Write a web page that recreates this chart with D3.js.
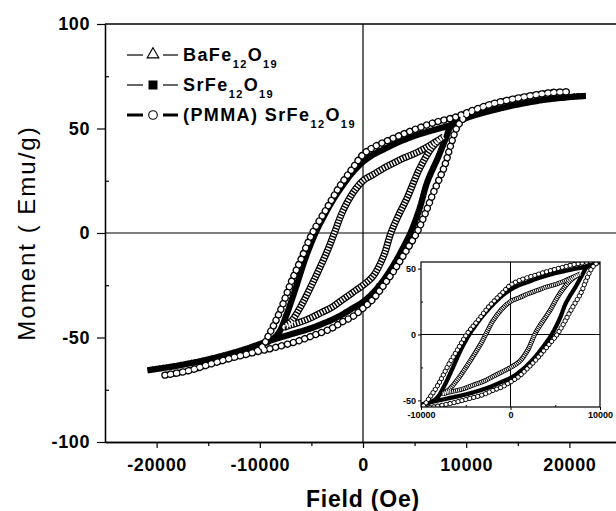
<!DOCTYPE html>
<html>
<head>
<meta charset="utf-8">
<script src="https://cdn.jsdelivr.net/npm/d3@7"></script>
<style>
body { margin: 0; background: #fff; }
svg { display: block; font-family: "Liberation Sans", Arial, sans-serif; }
</style>
</head>
<body>
<div id="chart"></div>
<script>
// axis ticks
var xTicks = [-20000, -10000, 0, 10000, 20000];
var xMinor = [-15000, -5000, 5000, 15000];
var yTicks = [-100, -50, 0, 50, 100];
var yMinor = [-75, -25, 25, 75];
var insetXTicks = [-10000, 0, 10000];
var insetXMinor = [-5000, 5000];
var insetYTicks = [-50, 0, 50];
var insetYMinor = [-25, 25];

// hysteresis loops, [field (Oe), moment (emu/g)]
// "down" = descending branch from +H, "up" = ascending branch from -H
var baFeDown = [[7800,46],[7000,43.5],[6000,40.5],[5000,38],[4000,36],[3000,33.5],[2000,31],[1000,28],[0,25],
  [-1000,19],[-2000,10],[-2700,1],[-3400,-8],[-4600,-21],[-5900,-34],[-6900,-42],[-7600,-45]];
var baFeUp = [[-7000,-44],[-6000,-42.5],[-5000,-40.5],[-4000,-38],[-3000,-35.5],[-2000,-32],[-1000,-28.5],[0,-25],
  [1000,-20.5],[2000,-11],[2700,0],[3400,8],[4300,17],[5500,31],[6700,41],[7500,45],[7800,46]];

var srFeDown = [[21300,65.5],[18000,64],[15000,61.5],[12000,58],[10000,55],[8400,51.5],[7000,49.5],[5000,46.5],
  [3000,42.5],[2000,40],[1000,37.5],[0,34],[-1000,29],[-2000,22.5],[-3000,15],[-4000,6],[-4600,0],[-5500,-11],
  [-6500,-26],[-7400,-39],[-8200,-48],[-9000,-51.5],[-10000,-53.5],[-12000,-56.5],[-15000,-60.5],[-18000,-63.5],[-20600,-65.5]];
var srFeUp = [[-18000,-63.5],[-15000,-60.5],[-12000,-56.5],[-9000,-51.5],[-7000,-48.5],[-5000,-45.5],[-3000,-41.5],
  [-2000,-39],[-1000,-36],[0,-33],[1000,-28.5],[2000,-22.5],[3000,-15],[4000,-6],[4600,0],[5500,12],[6200,24],
  [7300,36.5],[8000,45],[8600,51.5],[10000,55],[12000,58],[15000,61.5],[18000,64],[21300,65.5]];

var pmmaDown = [[19700,67.5],[18000,67],[15000,64.5],[12000,61],[10000,57.5],[9000,55.5],[7000,53],[5000,49.5],
  [3000,45.5],[1000,41],[0,37.5],[-1000,31],[-2300,22],[-3600,11],[-4900,0],[-6000,-12.5],[-7000,-24],[-8000,-37],
  [-9000,-47.5],[-10000,-55.5],[-12600,-59.6],[-15000,-63],[-17000,-66],[-19200,-68]];
var pmmaUp = [[-17000,-66],[-15000,-63],[-12600,-59.6],[-10000,-56.5],[-8700,-55],[-6500,-52],[-4800,-49],[-3000,-45.5],
  [-2000,-42.5],[-1000,-40],[0,-36],[1000,-31.5],[2000,-25],[3000,-18],[4000,-10],[5200,0],[6000,9],[6800,19],
  [7900,32],[8500,42],[9100,50.5],[9600,54],[10000,56.5],[12000,61],[15000,64.5],[18000,67],[19700,67.5]];

var series = [
  { name: "SrFe", sub: ["12", "19"], type: "square", data: srFeDown.concat(srFeUp) },
  { name: "BaFe", sub: ["12", "19"], type: "triangle", data: baFeDown.concat(baFeUp) },
  { name: "(PMMA) SrFe", sub: ["12", "19"], type: "circle", data: pmmaDown.concat(pmmaUp) }
];

var width = 616, height = 511;

var svg = d3.select("#chart").append("svg")
  .attr("width", width)
  .attr("height", height);

var x = d3.scaleLinear().domain([-25000, 25000]).range([105, 621]);
var y = d3.scaleLinear().domain([-100, 100]).range([442, 24]);

// frame and zero lines
svg.append("line").attr("x1", x(-25000)).attr("x2", x(25000)).attr("y1", y(100)).attr("y2", y(100))
  .attr("stroke", "#000").attr("stroke-width", 1.3);
svg.append("line").attr("x1", x(25000)).attr("x2", x(25000)).attr("y1", y(100)).attr("y2", y(-100))
  .attr("stroke", "#000").attr("stroke-width", 1.3);
svg.append("line").attr("x1", x(0)).attr("x2", x(0)).attr("y1", y(100)).attr("y2", y(-100))
  .attr("stroke", "#000").attr("stroke-width", 1.2);
svg.append("line").attr("x1", x(-25000)).attr("x2", x(25000)).attr("y1", y(0)).attr("y2", y(0))
  .attr("stroke", "#000").attr("stroke-width", 1.2);

var fmt = function (d) { return String(d); };

// x axis
var gx = svg.append("g").attr("transform", "translate(0," + y(-100) + ")")
  .call(d3.axisBottom(x).tickValues(xTicks).tickFormat(fmt).tickSize(6).tickSizeOuter(0).tickPadding(10));
svg.append("g").attr("transform", "translate(0," + y(-100) + ")")
  .call(d3.axisBottom(x).tickValues(xMinor).tickFormat("").tickSize(4).tickSizeOuter(0));

// y axis
var gy = svg.append("g").attr("transform", "translate(" + x(-25000) + ",0)")
  .call(d3.axisLeft(y).tickValues(yTicks).tickFormat(fmt).tickSize(8).tickSizeOuter(0).tickPadding(7));
svg.append("g").attr("transform", "translate(" + x(-25000) + ",0)")
  .call(d3.axisRight(y).tickValues(yMinor).tickFormat("").tickSize(4).tickSizeOuter(0));

svg.selectAll(".domain").attr("stroke-width", 1.3);
svg.selectAll(".tick line").attr("stroke-width", 1.2);
[gx, gy].forEach(function (g) {
  g.selectAll("text")
    .attr("font-family", "'Liberation Sans', Arial, sans-serif")
    .attr("font-size", 18)
    .attr("font-weight", "bold")
    .attr("letter-spacing", 0.6)
    .attr("fill", "#000");
});

// axis titles
svg.append("text")
  .attr("x", x(0)).attr("y", 507)
  .attr("text-anchor", "middle")
  .attr("font-size", 23).attr("font-weight", "bold").attr("letter-spacing", 0.8)
  .text("Field (Oe)");

svg.append("text")
  .attr("transform", "translate(35," + y(0) + ") rotate(-90)")
  .attr("text-anchor", "middle")
  .attr("font-size", 24)
  .attr("letter-spacing", 2)
  .text("Moment ( Emu/g)");

// draw a loop with dense markers made from a dashed stroke
function drawLoop(g, d, line, small) {
  var k = small ? 0.68 : 1;
  if (d.type === "square") {
    g.append("path").attr("d", line(d.data))
      .attr("fill", "none").attr("stroke", "#000")
      .attr("stroke-width", 6.2 * k)
      .attr("stroke-linecap", "square")
      .attr("stroke-linejoin", "round")
      .attr("stroke-dasharray", "0.01 " + (3.6 * k));
  } else if (d.type === "triangle") {
    g.append("path").attr("d", line(d.data))
      .attr("fill", "none").attr("stroke", "#000")
      .attr("stroke-width", 7 * k);
    g.append("path").attr("d", line(d.data))
      .attr("fill", "none").attr("stroke", "#fff")
      .attr("stroke-width", 4.6 * k)
      .attr("stroke-dasharray", (1.5 * k) + " " + (1.4 * k));
  } else {
    g.append("path").attr("d", line(d.data))
      .attr("fill", "none").attr("stroke", "#000")
      .attr("stroke-width", 7.4 * k)
      .attr("stroke-linecap", "round")
      .attr("stroke-dasharray", "0.01 " + (6 * k));
    g.append("path").attr("d", line(d.data))
      .attr("fill", "none").attr("stroke", "#fff")
      .attr("stroke-width", 4.8 * k)
      .attr("stroke-linecap", "round")
      .attr("stroke-dasharray", "0.01 " + (6 * k));
  }
}

var line = d3.line()
  .x(function (d) { return x(d[0]); })
  .y(function (d) { return y(d[1]); })
  .curve(d3.curveCatmullRom.alpha(0.5));

var curves = svg.append("g").attr("class", "curves");
series.forEach(function (s) { drawLoop(curves, s, line, false); });

// legend
var legendRows = [
  { s: series[1], y: 55 },
  { s: series[0], y: 85 },
  { s: series[2], y: 115 }
];
var legend = svg.append("g").attr("class", "legend");
legendRows.forEach(function (r) {
  var lw = r.s.type === "circle" ? 3 : 1.2;
  legend.append("line").attr("x1", 127).attr("x2", 143).attr("y1", r.y).attr("y2", r.y)
    .attr("stroke", "#000").attr("stroke-width", lw);
  legend.append("line").attr("x1", 163).attr("x2", 178).attr("y1", r.y).attr("y2", r.y)
    .attr("stroke", "#000").attr("stroke-width", lw);
  if (r.s.type === "triangle") {
    legend.append("path").attr("d", d3.symbol().type(d3.symbolTriangle).size(60)())
      .attr("transform", "translate(153," + (r.y - 0.5) + ")")
      .attr("fill", "#fff").attr("stroke", "#000").attr("stroke-width", 1.1);
  } else if (r.s.type === "square") {
    legend.append("rect").attr("x", 148.5).attr("y", r.y - 4.5).attr("width", 9).attr("height", 9)
      .attr("fill", "#000");
  } else {
    legend.append("circle").attr("cx", 153).attr("cy", r.y).attr("r", 4.3)
      .attr("fill", "#fff").attr("stroke", "#000").attr("stroke-width", 1.1);
  }
  var t = legend.append("text").attr("x", 183).attr("y", r.y + 6)
    .attr("font-size", 18).attr("font-weight", "bold").attr("letter-spacing", 1.4);
  t.append("tspan").text(r.s.name);
  t.append("tspan").attr("dy", 7).attr("font-size", 11).text(r.s.sub[0]);
  t.append("tspan").attr("dy", -7).text("O");
  t.append("tspan").attr("dy", 7).attr("font-size", 11).text(r.s.sub[1]);
});

// inset
var ix = d3.scaleLinear().domain([-10000, 10000]).range([421, 600]);
var iy = d3.scaleLinear().domain([-55, 55]).range([407, 262]);

var inset = svg.append("g").attr("class", "inset");
inset.append("rect").attr("x", ix(-10000)).attr("y", iy(55))
  .attr("width", ix(10000) - ix(-10000)).attr("height", iy(-55) - iy(55))
  .attr("fill", "#fff");
inset.append("clipPath").attr("id", "insetClip").append("rect")
  .attr("x", ix(-10000)).attr("y", iy(55))
  .attr("width", ix(10000) - ix(-10000)).attr("height", iy(-55) - iy(55));

inset.append("line").attr("x1", ix(0)).attr("x2", ix(0)).attr("y1", iy(55)).attr("y2", iy(-55))
  .attr("stroke", "#000").attr("stroke-width", 1);
inset.append("line").attr("x1", ix(-10000)).attr("x2", ix(10000)).attr("y1", iy(0)).attr("y2", iy(0))
  .attr("stroke", "#000").attr("stroke-width", 1);

var iline = d3.line()
  .x(function (d) { return ix(d[0]); })
  .y(function (d) { return iy(d[1]); })
  .curve(d3.curveCatmullRom.alpha(0.5));
var icurves = inset.append("g").attr("clip-path", "url(#insetClip)");
series.forEach(function (s) { drawLoop(icurves, s, iline, true); });

inset.append("rect").attr("x", ix(-10000)).attr("y", iy(55))
  .attr("width", ix(10000) - ix(-10000)).attr("height", iy(-55) - iy(55))
  .attr("fill", "none").attr("stroke", "#000").attr("stroke-width", 1.2);

var igx = inset.append("g").attr("transform", "translate(0," + iy(-55) + ")")
  .call(d3.axisBottom(ix).tickValues(insetXTicks).tickFormat(fmt).tickSize(3).tickSizeOuter(0).tickPadding(2));
inset.append("g").attr("transform", "translate(0," + iy(-55) + ")")
  .call(d3.axisTop(ix).tickValues(insetXMinor).tickFormat("").tickSize(2).tickSizeOuter(0));
var igy = inset.append("g").attr("transform", "translate(" + ix(-10000) + ",0)")
  .call(d3.axisLeft(iy).tickValues(insetYTicks).tickFormat(fmt).tickSize(3).tickSizeOuter(0).tickPadding(2));
inset.append("g").attr("transform", "translate(" + ix(-10000) + ",0)")
  .call(d3.axisRight(iy).tickValues(insetYMinor).tickFormat("").tickSize(2).tickSizeOuter(0));
inset.selectAll(".domain").remove();
[igx, igy].forEach(function (g) {
  g.selectAll("text")
    .attr("font-family", "'Liberation Sans', Arial, sans-serif")
    .attr("font-size", 9)
    .attr("font-weight", "bold")
    .attr("fill", "#000");
});
</script>
</body>
</html>
